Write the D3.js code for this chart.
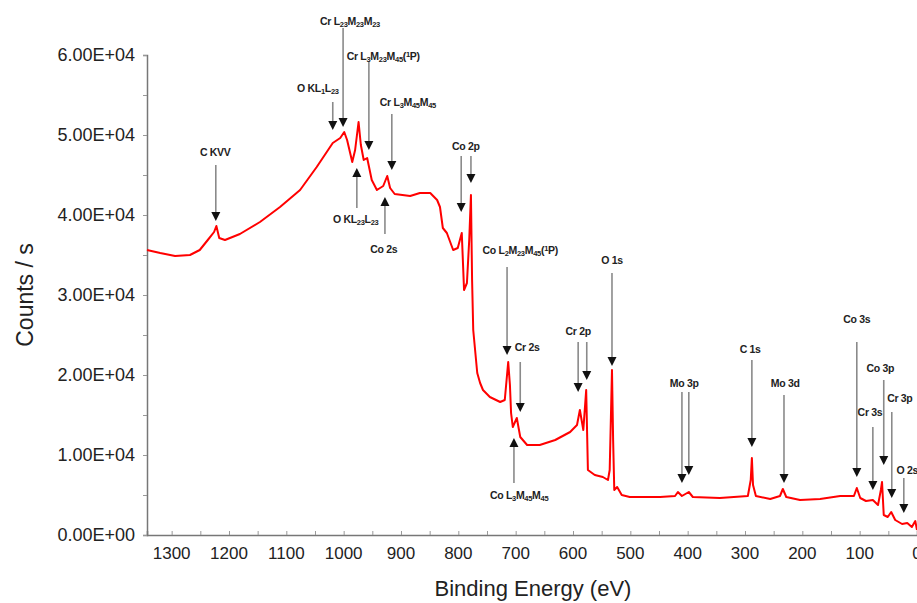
<!DOCTYPE html>
<html>
<head>
<meta charset="utf-8">
<script src="https://cdn.jsdelivr.net/npm/d3@7"></script>
<style>
  body { margin: 0; background: #fff; }
  svg text { font-family: "Liberation Sans", Arial, sans-serif; fill: #222; }
</style>
</head>
<body>
<div class="chart"></div>
<script>
// Spectrum: binding energy (eV) and counts / s
let energy = [1343, 1320, 1294, 1268, 1251, 1237, 1226, 1222, 1217, 1207, 1181, 1146, 1111, 1076,
    1047, 1019, 1006, 999, 994, 985, 980, 974, 970, 965, 959, 951, 942, 931, 924, 919, 911, 884,
    867, 849, 837, 832, 827, 820, 809, 801, 794, 790, 785, 781, 778, 776, 774, 767, 762, 757, 745,
    727, 719, 713, 710, 708, 705, 698, 692, 680, 658, 631, 605, 593, 588, 582, 577, 574, 562, 548,
    539, 536, 532, 530, 528, 523, 515, 501, 448, 422, 417, 410, 398, 391, 344, 295, 290, 288, 286,
    281, 256, 239, 234, 228, 204, 169, 134, 110, 105, 99, 89, 77, 68, 63, 61, 58, 51, 45, 38, 26,
    17, 9, 3, 0];
let counts = [35625, 35250, 34875, 35000, 35625, 36875, 37875, 38625, 37125, 36875, 37625, 39125,
    41000, 43125, 46000, 49000, 49625, 50375, 49375, 46625, 48125, 51625, 48750, 46875, 47125,
    44375, 43125, 43625, 44875, 43375, 42625, 42375, 42750, 42750, 41875, 41000, 38375, 37750,
    35625, 35875, 37750, 30625, 31500, 36875, 42500, 31875, 25625, 20250, 19000, 18125, 17250,
    16625, 16875, 21625, 18750, 15250, 13500, 14625, 12250, 11250, 11250, 11875, 12875, 13750,
    15625, 13125, 18125, 8125, 7500, 7250, 6875, 8125, 20625, 11875, 5625, 6000, 5000, 4750, 4750,
    4875, 5375, 4875, 5375, 4750, 4625, 4875, 6875, 9625, 6250, 4875, 4500, 4875, 5750, 4750, 4375,
    4500, 4875, 4875, 5875, 4625, 4250, 4375, 3750, 5625, 6625, 2500, 2250, 2875, 1875, 1375, 1500,
    1000, 1750, 625];

let xTicks = [1300, 1200, 1100, 1000, 900, 800, 700, 600, 500, 400, 300, 200, 100, 0];
let yTicks = [0, 10000, 20000, 30000, 40000, 50000, 60000];

// Peak labels: text, label energy, label level, arrow energies, arrow start level, arrow tip levels
let peakText = ["C KVV", "O KL_{1}L_{23}", "Cr L_{23}M_{23}M_{23}", "Cr L_{3}M_{23}M_{45}(^{1}P)",
    "Cr L_{3}M_{45}M_{45}", "Co 2p", "O KL_{23}L_{23}", "Co 2s", "Co L_{2}M_{23}M_{45}(^{1}P)",
    "O 1s", "Cr 2s", "Co L_{3}M_{45}M_{45}", "Cr 2p", "Mo 3p", "C 1s", "Mo 3d", "Co 3s", "Cr 3s",
    "Co 3p", "Cr 3p", "O 2s"];
let peakLabelE = [1224, 1045, 989, 931, 888, 787, 979, 930, 692, 532, 680, 694, 591, 406, 291,
    230, 105, 82, 64, 30, 17];
let peakLabelC = [47875, 55875, 64250, 59875, 54125, 48625, 39500, 35750, 35625, 34375, 23500,
    5000, 25500, 19000, 23250, 19000, 27000, 15375, 20875, 17125, 8125];
let peakArrowE = [[1223], [1019], [1001], [956], [916], [795, 778], [977], [928], [715], [532],
    [692], [703], [591, 576], [410, 398], [288], [232], [105], [77], [58], [44], [23]];
let peakFromC = [46250, 54125, 63375, 59125, 52625, 47375, 40875, 37625, 33500, 32750, 21625,
    6500, 24125, 17875, 21875, 17500, 24125, 13500, 19375, 15375, 7125];
let peakTipC = [[39250], [50625], [51000], [48125], [45625], [40375, 44000], [45875], [42250],
    [22500], [21125], [15375], [12125], [17875, 19375], [6500, 7500], [11000], [6500], [7250],
    [5625], [8750], [4625], [2750]];

let width = 917, height = 603;
let svg = d3.select(".chart").append("svg")
    .attr("width", width)
    .attr("height", height)
    .style("background", "#fff");

let x = d3.scaleLinear().domain([1343, 0]).range([147, 917]);
let y = d3.scaleLinear().domain([0, 60000]).range([535, 55]);

// axes
let xAxis = svg.append("g")
    .attr("transform", `translate(0,${y(0)})`)
    .call(d3.axisTop(x).tickValues(d3.range(1300, -1, -50)).tickSize(4).tickFormat(""));
let yAxis = svg.append("g")
    .attr("transform", `translate(${x(1343)},0)`)
    .call(d3.axisLeft(y).tickValues(d3.range(0, 60001, 5000)).tickSize(4).tickFormat(""));
[xAxis, yAxis].forEach(a => {
    a.select(".domain").attr("stroke", "#777").attr("stroke-width", 1.5);
    a.selectAll(".tick line").attr("stroke", "#999");
});

svg.selectAll(".xlab").data(xTicks).enter().append("text")
    .attr("x", d => x(d))
    .attr("y", 559)
    .attr("text-anchor", "middle")
    .attr("font-size", 17)
    .text(d => d);

svg.selectAll(".ylab").data(yTicks).enter().append("text")
    .attr("x", 135)
    .attr("y", d => y(d))
    .attr("dy", "0.35em")
    .attr("text-anchor", "end")
    .attr("font-size", 18)
    .text(d => d3.format(".2e")(d).replace("e", "E").replace(/E([+-])(\d)$/, "E$10$2"));

svg.append("text")
    .attr("transform", "translate(33,295) rotate(-90)")
    .attr("text-anchor", "middle")
    .attr("font-size", 23)
    .text("Counts / s");

svg.append("text")
    .attr("x", 533)
    .attr("y", 596)
    .attr("text-anchor", "middle")
    .attr("font-size", 22)
    .text("Binding Energy (eV)");

// spectrum
let points = energy.map((e, i) => [e, counts[i]]);
let line = d3.line().x(d => x(d[0])).y(d => y(d[1]));
svg.append("path")
    .datum(points)
    .attr("d", line)
    .attr("fill", "none")
    .attr("stroke", "#ff0000")
    .attr("stroke-width", 2)
    .attr("stroke-linejoin", "round");

// peak annotations
function addLabel(g, str, lx, ly) {
    let t = g.append("text")
        .attr("x", lx)
        .attr("y", ly)
        .attr("dy", "0.35em")
        .attr("text-anchor", "middle")
        .attr("font-size", 10.5)
        .attr("font-weight", "bold")
        .attr("letter-spacing", -0.3);
    let parts = str.split(/([_^]\{[^}]*\})/).filter(s => s.length);
    parts.forEach(p => {
        if (p[0] === "_") {
            t.append("tspan").attr("font-size", 7.5).attr("baseline-shift", "-25%").text(p.slice(2, -1));
        } else if (p[0] === "^") {
            t.append("tspan").attr("font-size", 7.5).attr("baseline-shift", "35%").text(p.slice(2, -1));
        } else {
            t.append("tspan").text(p);
        }
    });
}

let annot = svg.append("g");
peakText.forEach((txt, i) => {
    addLabel(annot, txt, x(peakLabelE[i]), y(peakLabelC[i]));
    peakArrowE[i].forEach((e, j) => {
        let ax = x(e), y0 = y(peakFromC[i]), y1 = y(peakTipC[i][j]);
        let dir = y1 > y0 ? 1 : -1;
        let head = 9;
        annot.append("line")
            .attr("x1", ax).attr("x2", ax)
            .attr("y1", y0).attr("y2", y1 - dir * head)
            .attr("stroke", "#8a8a8a")
            .attr("stroke-width", 1.6);
        annot.append("path")
            .attr("d", `M${ax - 4.5},${y1 - dir * head}L${ax + 4.5},${y1 - dir * head}L${ax},${y1}Z`)
            .attr("fill", "#111");
    });
});
</script>
</body>
</html>
